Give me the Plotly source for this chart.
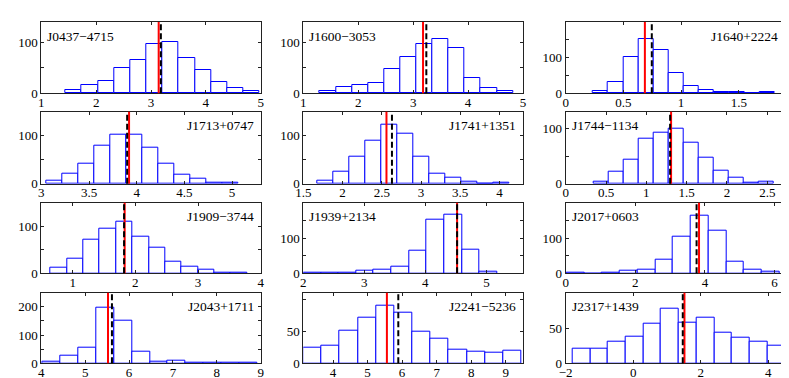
import plotly.graph_objects as go

# pulsar names, one panel each (row-major, 4 rows x 3 cols)
names = ["J0437−4715", "J1600−3053", "J1640+2224",
         "J1713+0747", "J1741+1351", "J1744−1134",
         "J1909−3744", "J1939+2134", "J2017+0603",
         "J2043+1711", "J2241−5236", "J2317+1439"]

# histogram counts (12 bins per panel)
counts = [
    [6, 16, 25, 49, 65, 96, 101, 69, 46, 22, 10, 4],
    [4, 12, 17, 21, 47, 72, 97, 107, 88, 31, 10, 5],
    [6, 31, 101, 153, 122, 58, 20, 9, 3, 3, 1, 3],
    [6, 21, 41, 80, 103, 103, 74, 41, 19, 11, 3, 2],
    [7, 26, 56, 90, 122, 104, 56, 21, 13, 5, 1, 2],
    [4, 21, 43, 82, 92, 100, 74, 47, 23, 10, 2, 4],
    [12, 32, 71, 94, 110, 78, 55, 24, 14, 8, 1, 1],
    [2, 1, 2, 2, 6, 9, 20, 63, 153, 167, 67, 5],
    [3, 0, 2, 8, 11, 39, 104, 164, 120, 34, 11, 4],
    [7, 27, 57, 198, 151, 42, 7, 10, 2, 1, 1, 2],
    [25, 27, 52, 72, 90, 80, 49, 38, 21, 18, 16, 20],
    [20, 21, 30, 38, 56, 78, 58, 65, 44, 36, 30, 25],
]
first_edge = [1.44, 1.30, 0.237, 3.05, 1.68, 0.35, 0.649, 1.71, 0.03, 4.03, 3.14, -1.79]
bin_width = [0.295, 0.293, 0.131, 0.168, 0.204, 0.186, 0.261, 0.289, 0.509, 0.4075, 0.526, 0.524]

# red solid / black dashed reference values
red_vals = [3.14, 3.18, 0.686, 3.92, 2.56, 1.307, 1.83, 4.52, 3.83, 5.52, 5.56, 1.52]
black_vals = [3.18, 3.24, 0.746, 3.90, 2.63, 1.295, 1.82, 4.52, 3.76, 5.61, 5.89, 1.47]

# axis limits and ticks
x_ranges = [[1, 5], [1, 5], [0, 1.9], [3, 5.3], [1.5, 4.3], [0, 2.72],
            [0.5, 4], [2, 5.6], [0, 6.3], [4, 9], [3.14, 9.5], [-2, 4.5]]
x_ticks = [[1, 2, 3, 4, 5], [1, 2, 3, 4, 5], [0, 0.5, 1, 1.5], [3, 3.5, 4, 4.5, 5],
           [1.5, 2, 2.5, 3, 3.5, 4], [0, 0.5, 1, 1.5, 2, 2.5], [1, 2, 3, 4], [2, 3, 4, 5],
           [0, 2, 4, 6], [4, 5, 6, 7, 8, 9], [4, 5, 6, 7, 8, 9], [-2, 0, 2, 4]]
y_max = [140, 140, 200, 150, 150, 130, 150, 200, 200, 250, 111, 100]
y_labels = [[0, 100], [0, 100], [0, 100], [0, 100], [0, 100], [0, 100],
            [0, 100], [0, 100], [0, 100], [0, 100, 200], [0, 50], [0, 50]]
label_side = ["left", "left", "right", "right", "right", "left",
              "right", "left", "left", "right", "right", "left"]

# page body adds an 8px offset, so the figure is drawn 8px smaller and shifted
OFF = 8
W, H = 789 - OFF, 378 - OFF
col_x = [(41.3, 260.7), (303.3, 523.0), (565.7, 785.0)]
row_y = [(22.0, 93.3), (111.7, 183.7), (202.7, 273.3), (292.7, 363.3)]
FONT = "Liberation Serif"

fig = go.Figure()
shapes = []
annotations = []
for i in range(12):
    r, c = divmod(i, 3)
    ax = "" if i == 0 else str(i + 1)
    xa, ya = "x" + ax, "y" + ax
    centers = [first_edge[i] + bin_width[i] * (k + 0.5) for k in range(len(counts[i]))]
    fig.add_trace(go.Bar(
        x=centers, y=counts[i], width=bin_width[i],
        marker=dict(color="white", line=dict(color="#0000ff", width=1)),
        xaxis=xa, yaxis=ya, showlegend=False,
    ))
    x0, x1 = col_x[c][0] - OFF, col_x[c][1] - OFF
    y0, y1 = row_y[r][0] - OFF, row_y[r][1] - OFF
    yticks = list(range(0, y_max[i] + 1, 50))
    ytext = [str(v) if v in y_labels[i] else "" for v in yticks]
    fig.layout["xaxis" + ax] = dict(
        domain=[x0 / W, x1 / W], range=x_ranges[i], anchor=ya, automargin=False,
        tickvals=x_ticks[i], ticks="inside", ticklen=3, tickcolor="#222",
        ticklabelstandoff=-3,
        showline=True, linecolor="#222", linewidth=1, mirror="ticks",
        showgrid=False, zeroline=False,
        tickfont=dict(family=FONT, size=13, color="black"),
    )
    fig.layout["yaxis" + ax] = dict(
        domain=[1 - y1 / H, 1 - y0 / H], range=[0, y_max[i]], anchor=xa, automargin=False,
        tickvals=yticks, ticktext=ytext, ticks="inside", ticklen=3, tickcolor="#222",
        showline=True, linecolor="#222", linewidth=1, mirror="ticks",
        showgrid=False, zeroline=False,
        tickfont=dict(family=FONT, size=13, color="black"),
    )
    shapes.append(dict(type="line", xref=xa, yref=ya + " domain",
                       x0=red_vals[i], x1=red_vals[i], y0=0, y1=1,
                       line=dict(color="#ff0000", width=2)))
    shapes.append(dict(type="line", xref=xa, yref=ya + " domain",
                       x0=black_vals[i], x1=black_vals[i], y0=0, y1=1,
                       line=dict(color="black", width=2, dash="6px,3px")))
    if label_side[i] == "left":
        annotations.append(dict(text=names[i], xref="paper", yref="paper",
                                x=(x0 + 4) / W, y=1 - (y0 + 14) / H,
                                xanchor="left", yanchor="middle", showarrow=False,
                                font=dict(family=FONT, size=13.5, color="black")))
    else:
        annotations.append(dict(text=names[i], xref="paper", yref="paper",
                                x=(x1 - 5) / W, y=1 - (y0 + 14) / H,
                                xanchor="right", yanchor="middle", showarrow=False,
                                font=dict(family=FONT, size=13.5, color="black")))

fig.update_layout(
    width=W, height=H,
    margin=dict(l=0, r=0, t=0, b=0),
    paper_bgcolor="white", plot_bgcolor="white",
    bargap=0, shapes=shapes, annotations=annotations,
)
fig.write_html("out.html")
